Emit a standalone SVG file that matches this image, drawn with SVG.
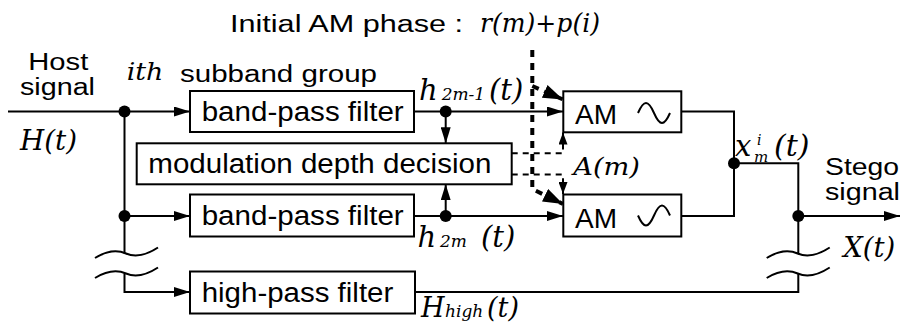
<svg xmlns="http://www.w3.org/2000/svg" width="901" height="334" viewBox="0 0 901 334">
<defs>
<marker id="ah" markerUnits="userSpaceOnUse" markerWidth="16" markerHeight="10" refX="16" refY="5" orient="auto"><path d="M0,0 L16,5 L0,10 z" fill="#000"/></marker>
<marker id="ahs" markerUnits="userSpaceOnUse" markerWidth="12" markerHeight="9" refX="12" refY="4.5" orient="auto"><path d="M0,0 L12,4.5 L0,9 z" fill="#000"/></marker>
<marker id="ahb" markerUnits="userSpaceOnUse" markerWidth="20" markerHeight="14" refX="20" refY="7" orient="auto"><path d="M0,0 L20,7 L0,14 z" fill="#000"/></marker>
</defs>
<style>
.box{fill:#fff;stroke:#000;stroke-width:2}
.ln{fill:none;stroke:#000;stroke-width:2}
.dt{fill:none;stroke:#000;stroke-width:2;stroke-dasharray:6 5}
.dk{fill:none;stroke:#000;stroke-width:4;stroke-dasharray:7 6}
.dot{fill:#000}
.wave{fill:none;stroke:#000;stroke-width:2}
.sans{font-family:"Liberation Sans",Arial,sans-serif;fill:#000}
.math{font-family:"DejaVu Serif","Liberation Serif",serif;font-style:italic;fill:#000}
</style>

<g id="connectors">
<path class="ln" d="M8,111.5 H190" marker-end="url(#ah)"/>
<path class="ln" d="M124.5,111.5 V253.5"/>
<path class="ln" d="M124.5,216 H190" marker-end="url(#ah)"/>
<path class="ln" d="M124.5,273.5 V292 H190" marker-end="url(#ah)"/>
<path class="ln" d="M414,111.5 H563" marker-end="url(#ah)"/>
<path class="ln" d="M445.7,111.5 V143.3" marker-end="url(#ah)"/>
<path class="ln" d="M414,216 H563" marker-end="url(#ah)"/>
<path class="ln" d="M445.7,216 V184.3" marker-end="url(#ah)"/>
<path class="ln" d="M681,111.5 H734 V216 H681"/>
<path class="ln" d="M734,163.3 H798.3 V253.5"/>
<path class="ln" d="M798.3,216 H900" marker-end="url(#ah)"/>
<path class="ln" d="M798.3,273.5 V292 H415"/>
<path class="dt" d="M511.7,153.3 H563 V132.5" marker-end="url(#ahs)"/>
<path class="dt" d="M511.7,174.5 H563 V194" marker-end="url(#ahs)"/>
<path class="dk" d="M532.3,50 V189 L563,204" marker-end="url(#ahb)"/>
<path class="dk" d="M532.3,86 L563,99.5" marker-end="url(#ahb)"/>
</g>

<g id="breaks">
<path class="wave" d="M95,258 C108,250 118,250 126,253.5 C134,257 145,256 158,247.5"/>
<path class="wave" d="M95,278 C108,270 118,270 126,273.5 C134,277 145,276 158,267.5"/>
<path class="wave" d="M766.7,258 C779.7,250 789.7,250 797.7,253.5 C805.7,257 816.7,256 829.7,247.5"/>
<path class="wave" d="M766.7,278 C779.7,270 789.7,270 797.7,273.5 C805.7,277 816.7,276 829.7,267.5"/>
</g>

<g id="junctions">
<circle class="dot" cx="124.5" cy="111.5" r="6"/>
<circle class="dot" cx="124.5" cy="216" r="6"/>
<circle class="dot" cx="445.7" cy="111.5" r="6"/>
<circle class="dot" cx="445.7" cy="216" r="6"/>
<circle class="dot" cx="734" cy="163.3" r="6"/>
<circle class="dot" cx="798.3" cy="216" r="6"/>
</g>

<g id="bpf1">
<rect class="box" x="190" y="91" width="224" height="41"/>
<text class="sans" x="201.7" y="121" font-size="27" textLength="202" lengthAdjust="spacingAndGlyphs">band-pass filter</text>
</g>
<g id="mdd">
<rect class="box" x="136.7" y="143.3" width="375" height="41"/>
<text class="sans" x="148.3" y="172.7" font-size="27" textLength="343" lengthAdjust="spacingAndGlyphs">modulation depth decision</text>
</g>
<g id="bpf2">
<rect class="box" x="190" y="194.5" width="224" height="42"/>
<text class="sans" x="201.7" y="225.2" font-size="27" textLength="202" lengthAdjust="spacingAndGlyphs">band-pass filter</text>
</g>
<g id="hpf">
<rect class="box" x="190" y="271.5" width="225" height="42"/>
<text class="sans" x="201.7" y="302" font-size="27" textLength="191.6" lengthAdjust="spacingAndGlyphs">high-pass filter</text>
</g>
<g id="am1">
<rect class="box" x="563.3" y="91.3" width="118" height="41"/>
<text class="sans" x="575" y="124" font-size="28" textLength="42" lengthAdjust="spacingAndGlyphs">AM</text>
<path class="wave" d="M638,113 C643.8,99.7 648.2,99.7 654,113 C659.8,126.3 664.2,126.3 670,113"/>
</g>
<g id="am2">
<rect class="box" x="563.3" y="194.5" width="118" height="42"/>
<text class="sans" x="575" y="227.5" font-size="28" textLength="42" lengthAdjust="spacingAndGlyphs">AM</text>
<path class="wave" d="M638,215.5 C643.8,228.8 648.2,228.8 654,215.5 C659.8,202.2 664.2,202.2 670,215.5"/>
</g>

<g id="labels">
<text class="sans" x="230" y="31.5" font-size="23" textLength="233" lengthAdjust="spacingAndGlyphs">Initial AM phase :</text>
<text class="math" x="480" y="31.5" font-size="26" textLength="120" lengthAdjust="spacingAndGlyphs">r(m)+p(i)</text>
<text class="sans" x="28.3" y="70" font-size="23.5" textLength="60" lengthAdjust="spacingAndGlyphs">Host</text>
<text class="sans" x="20" y="95" font-size="23.5" textLength="75" lengthAdjust="spacingAndGlyphs">signal</text>
<text class="math" x="126.7" y="80" font-size="24" textLength="36.7" lengthAdjust="spacingAndGlyphs">ith</text>
<text class="sans" x="180" y="81.7" font-size="23" textLength="197" lengthAdjust="spacingAndGlyphs">subband group</text>
<text class="math" x="20" y="150" font-size="27" textLength="57" lengthAdjust="spacingAndGlyphs">H(t)</text>
<text class="math" y="100"><tspan x="419" font-size="29">h</tspan><tspan x="441.7" font-size="17">2m-1</tspan><tspan x="489" font-size="29">(t)</tspan></text>
<text class="math" y="247.3"><tspan x="417.5" font-size="29">h</tspan><tspan x="440" font-size="17">2m</tspan><tspan x="481" font-size="29">(t)</tspan></text>
<text class="math" y="316.7"><tspan x="421" font-size="27">H</tspan><tspan x="445" font-size="17">high</tspan><tspan x="487" font-size="27">(t)</tspan></text>
<text class="math"><tspan x="735" y="156" font-size="29">x</tspan><tspan x="757" y="145" font-size="14">i</tspan><tspan x="754" y="162" font-size="15">m</tspan><tspan x="774" y="156" font-size="30">(t)</tspan></text>
<text class="math" x="573.3" y="175" font-size="25" textLength="66.7" lengthAdjust="spacingAndGlyphs">A(m)</text>
<text class="math" x="843.3" y="256.7" font-size="28" textLength="52" lengthAdjust="spacingAndGlyphs">X(t)</text>
<text class="sans" x="825" y="175" font-size="23.5" textLength="74" lengthAdjust="spacingAndGlyphs">Stego</text>
<text class="sans" x="825" y="200" font-size="23.5" textLength="75" lengthAdjust="spacingAndGlyphs">signal</text>
</g>
</svg>
